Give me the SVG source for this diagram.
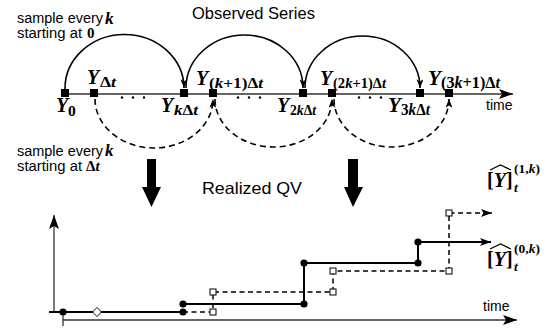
<svg xmlns="http://www.w3.org/2000/svg" width="554" height="333" viewBox="0 0 554 333">
<style>
.sans{font-family:"Liberation Sans",Arial,sans-serif;fill:#000}
.mi{font-family:"Liberation Serif","DejaVu Serif",serif;font-weight:bold;font-style:italic;fill:#000}
.mb{font-family:"Liberation Serif","DejaVu Serif",serif;font-weight:bold;font-style:normal;fill:#000}
.it{font-style:italic}
.arc{fill:none;stroke:#000;stroke-width:1.6}
.darc{fill:none;stroke:#000;stroke-width:1.6;stroke-dasharray:6,4}
.sq{fill:#000}
.osq{fill:#fff;stroke:#000;stroke-width:1}
.dot{fill:#000}
.step{fill:none;stroke:#000;stroke-width:2}
.dstep{fill:none;stroke:#000;stroke-width:1.5;stroke-dasharray:5,3.5}
.axis{fill:none;stroke:#333;stroke-width:1.3}
</style>
<defs>
<marker id="ah" markerUnits="userSpaceOnUse" viewBox="0 0 10 8" markerWidth="9" markerHeight="7" refX="10" refY="4" orient="auto"><path d="M0,0 L10,4 L0,8 L2.5,4 z" fill="#000" stroke="none"/></marker>
<marker id="axh" markerUnits="userSpaceOnUse" viewBox="0 0 14 10" markerWidth="14" markerHeight="10" refX="14" refY="5" orient="auto"><path d="M0,0 L14,5 L0,10 L3,5 z" fill="#000" stroke="none"/></marker>
<marker id="sh" markerUnits="userSpaceOnUse" viewBox="0 0 11 8" markerWidth="11" markerHeight="8" refX="11" refY="4" orient="auto"><path d="M0,0 L11,4 L0,8 L2.5,4 z" fill="#000" stroke="none"/></marker>
</defs>

<g id="titles">
<text class="sans" x="192" y="19" font-size="16.5">Observed Series</text>
<text class="sans" x="202" y="194" font-size="16.5" textLength="100" lengthAdjust="spacingAndGlyphs">Realized QV</text>
</g>

<g id="sample-labels">
<text class="sans" x="17" y="22.5" font-size="14" textLength="86" lengthAdjust="spacingAndGlyphs">sample every</text>
<text class="mi" x="105" y="23.5" font-size="17.5">k</text>
<text class="sans" x="17" y="37.5" font-size="14" textLength="65" lengthAdjust="spacingAndGlyphs">starting at</text>
<text class="mb" x="87" y="37.5" font-size="15">0</text>
<text class="sans" x="17" y="155.5" font-size="14" textLength="86" lengthAdjust="spacingAndGlyphs">sample every</text>
<text class="mi" x="105" y="155.5" font-size="17">k</text>
<text class="sans" x="17" y="170.5" font-size="14" textLength="65" lengthAdjust="spacingAndGlyphs">starting at</text>
<text class="mb" x="86" y="171" font-size="15">Δ<tspan class="it">t</tspan></text>
</g>

<g id="time-axis-top">
<line class="axis" x1="62" y1="94" x2="513" y2="94" marker-end="url(#axh)"/>
<text class="sans" x="486" y="110" font-size="14">time</text>
<g fill="#000">
<circle cx="122" cy="97.5" r="1.2"/><circle cx="133" cy="97.5" r="1.2"/><circle cx="144" cy="97.5" r="1.2"/>
<circle cx="238" cy="97.5" r="1.2"/><circle cx="249" cy="97.5" r="1.2"/><circle cx="260" cy="97.5" r="1.2"/>
<circle cx="359" cy="97.5" r="1.2"/><circle cx="370" cy="97.5" r="1.2"/><circle cx="381" cy="97.5" r="1.2"/>
</g>
</g>

<g id="connectors">
<path class="arc" d="M65,89 A59.5,54 0 0 1 184,88" marker-end="url(#ah)"/>
<path class="arc" d="M186,88 A58.5,53 0 0 1 303,88" marker-end="url(#ah)"/>
<path class="arc" d="M305,88 A57.5,52 0 0 1 420,88" marker-end="url(#ah)"/>
<path class="darc" d="M95,99 A59,49 0 0 0 213,99" marker-end="url(#ah)"/>
<path class="darc" d="M215,99 A58.5,48 0 0 0 332,99" marker-end="url(#ah)"/>
<path class="darc" d="M334,99 A57.5,48 0 0 0 449,99" marker-end="url(#ah)"/>
</g>

<g id="node-Y0"><rect class="sq" x="61" y="89" width="8" height="8"/>
<text class="mi" x="56" y="112" font-size="20">Y</text><text class="mb" x="68" y="116" font-size="15.5">0</text></g>
<g id="node-Ydt"><rect class="sq" x="90" y="89" width="8" height="8"/>
<text class="mi" x="87" y="84" font-size="20">Y</text><text class="mb" x="100" y="87" font-size="15" textLength="16" lengthAdjust="spacingAndGlyphs">Δ<tspan class="it">t</tspan></text></g>
<g id="node-Ykdt"><rect class="sq" x="180" y="89" width="8" height="8"/>
<text class="mi" x="161" y="112" font-size="20">Y</text><text class="mb" x="174" y="115" font-size="15" textLength="24" lengthAdjust="spacingAndGlyphs"><tspan class="it">k</tspan>Δ<tspan class="it">t</tspan></text></g>
<g id="node-Yk1dt"><rect class="sq" x="209" y="89" width="8" height="8"/>
<text class="mi" x="196" y="85" font-size="20">Y</text><text class="mb" x="209" y="88" font-size="15" textLength="54" lengthAdjust="spacingAndGlyphs">(<tspan class="it">k</tspan>+1)Δ<tspan class="it">t</tspan></text></g>
<g id="node-Y2kdt"><rect class="sq" x="299" y="89" width="8" height="8"/>
<text class="mi" x="277" y="112" font-size="20">Y</text><text class="mb" x="290" y="115" font-size="15" textLength="26" lengthAdjust="spacingAndGlyphs">2<tspan class="it">k</tspan>Δ<tspan class="it">t</tspan></text></g>
<g id="node-Y2k1dt"><rect class="sq" x="328" y="89" width="8" height="8"/>
<text class="mi" x="320" y="85" font-size="20">Y</text><text class="mb" x="333" y="88" font-size="15" textLength="53" lengthAdjust="spacingAndGlyphs">(2<tspan class="it">k</tspan>+1)Δ<tspan class="it">t</tspan></text></g>
<g id="node-Y3kdt"><rect class="sq" x="416" y="89" width="8" height="8"/>
<text class="mi" x="388" y="112" font-size="21">Y</text><text class="mb" x="401" y="115" font-size="16" textLength="29" lengthAdjust="spacingAndGlyphs">3<tspan class="it">k</tspan>Δ<tspan class="it">t</tspan></text></g>
<g id="node-Y3k1dt"><rect class="sq" x="445" y="89" width="8" height="8"/>
<text class="mi" x="428" y="85" font-size="21">Y</text><text class="mb" x="441" y="88" font-size="16" textLength="59" lengthAdjust="spacingAndGlyphs">(3<tspan class="it">k</tspan>+1)Δ<tspan class="it">t</tspan></text></g>

<g id="big-arrows" fill="#000">
<polygon points="147,159 156,159 156,187 161,187 151.5,207 142,187 147,187"/>
<polygon points="348,159 358,159 358,187 363,187 353,207 344,187 348,187"/>
</g>

<g id="qv-chart">
<line class="axis" x1="54" y1="312" x2="54" y2="215" marker-end="url(#axh)" stroke="#000"/>
<line class="axis" x1="63" y1="320" x2="517" y2="320" marker-end="url(#axh)"/>
<line class="axis" x1="63" y1="312" x2="63" y2="326"/>
<text class="sans" x="483" y="311" font-size="14">time</text>

<path class="dstep" d="M183,312 H213 V292 H333 V271 H449 V213 H484"/>
<path d="M484,213 L492,213" fill="none" stroke="#000" stroke-width="1.5" marker-end="url(#sh)"/>

<path class="step" d="M49,312 H183"/>
<path class="step" d="M183,304 H304 V263 H418 V242 H491" marker-end="url(#sh)"/>

<circle class="dot" cx="63" cy="312" r="3.6"/>
<polygon points="97,307.5 101.5,312 97,316.5 92.5,312" fill="#fff" stroke="#000" stroke-width="1"/>
<circle class="dot" cx="183" cy="312" r="3.6"/>
<circle class="dot" cx="183" cy="304" r="3.6"/>
<circle class="dot" cx="304" cy="304" r="3.6"/>
<circle class="dot" cx="304" cy="263" r="3.6"/>
<circle class="dot" cx="418" cy="263" r="3.6"/>
<circle class="dot" cx="418" cy="242" r="3.6"/>

<rect class="osq" x="210" y="309" width="6" height="6"/>
<rect class="osq" x="210" y="289" width="6" height="6"/>
<rect class="osq" x="330" y="289" width="6" height="6"/>
<rect class="osq" x="330" y="268" width="6" height="6"/>
<rect class="osq" x="446" y="268" width="6" height="6"/>
<rect class="osq" x="446" y="210" width="6" height="6"/>
</g>

<g id="label-1k">
<text class="mb" x="487" y="187" font-size="20">[<tspan class="it">Y</tspan>]</text>
<polyline points="490,170 500.5,165 511,170" fill="none" stroke="#000" stroke-width="1.2"/>
<text class="mb" x="514" y="173" font-size="13.5">(1,<tspan class="it">k</tspan>)</text>
<text class="mi" x="514" y="192" font-size="13.5">t</text>
</g>
<g id="label-0k">
<text class="mb" x="487" y="266" font-size="20">[<tspan class="it">Y</tspan>]</text>
<polyline points="490,249 500.5,244 511,249" fill="none" stroke="#000" stroke-width="1.2"/>
<text class="mb" x="514" y="253" font-size="13.5">(0,<tspan class="it">k</tspan>)</text>
<text class="mi" x="514" y="271" font-size="13.5">t</text>
</g>
</svg>
